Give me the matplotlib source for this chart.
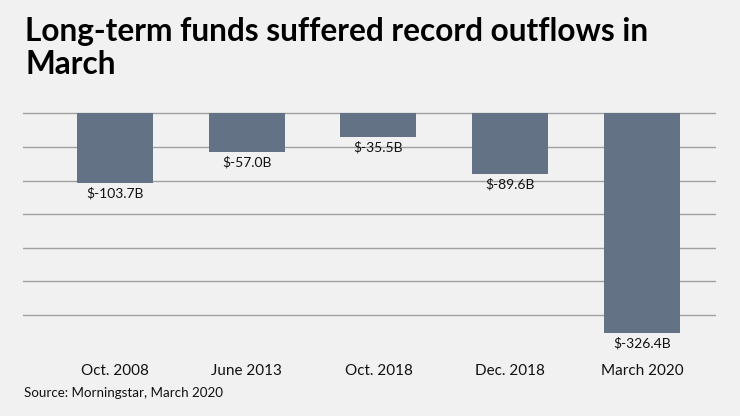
import matplotlib
matplotlib.use("Agg")
import matplotlib.pyplot as plt

periods = ["Oct. 2008", "June 2013", "Oct. 2018", "Dec. 2018", "March 2020"]
outflows = [-103.7, -57.0, -35.5, -89.6, -326.4]
grid_levels = [0, -50, -100, -150, -200, -250, -300]
title_lines = ["Long-term funds suffered record outflows in", "March"]

bg = "#f0f1f0"
bar_color = "#647285"

plt.rcParams["font.family"] = ["Lato", "DejaVu Sans"]

fig = plt.figure(figsize=(7.4, 4.16), dpi=100, facecolor=bg)
W, H = 740, 416
# axes box in pixels: x 23..716, y 105..340
ax = fig.add_axes([23 / W, 1 - 340 / H, (716 - 23) / W, (340 - 105) / H])
ax.set_facecolor(bg)

x = list(range(len(periods)))
ax.set_xlim(-0.698, 4.562)
ax.set_ylim(-337.2, 12.3)

for g in grid_levels:
    ax.axhline(g, color="#a0a0a0", lw=1, zorder=1)

bars = ax.bar(x, outflows, width=0.577, color=bar_color, zorder=2)

for xi, v in zip(x, outflows):
    ax.annotate(f"$-{abs(v):.1f}B", (xi, v), xytext=(0, -3), textcoords="offset points",
                ha="center", va="top", fontsize=10, color="#111111")

ax.set_xticks(x)
ax.set_xticklabels(periods, fontsize=11, color="#111111")
ax.tick_params(axis="x", length=0, pad=17)
ax.set_yticks([])
for s in ax.spines.values():
    s.set_visible(False)

# title, one text per line so the baselines sit where the reference has them
for line, base in zip(title_lines, [41, 74]):
    fig.text(25 / W, 1 - base / H, line, fontsize=22.8, fontweight="bold",
             color="#000000", ha="left", va="baseline")
fig.text(24 / W, 1 - 393 / H, "Source: Morningstar, March 2020", fontsize=9.6,
         color="#111111", ha="left", va="center")

fig.savefig("out.png", dpi=100, facecolor=bg)
